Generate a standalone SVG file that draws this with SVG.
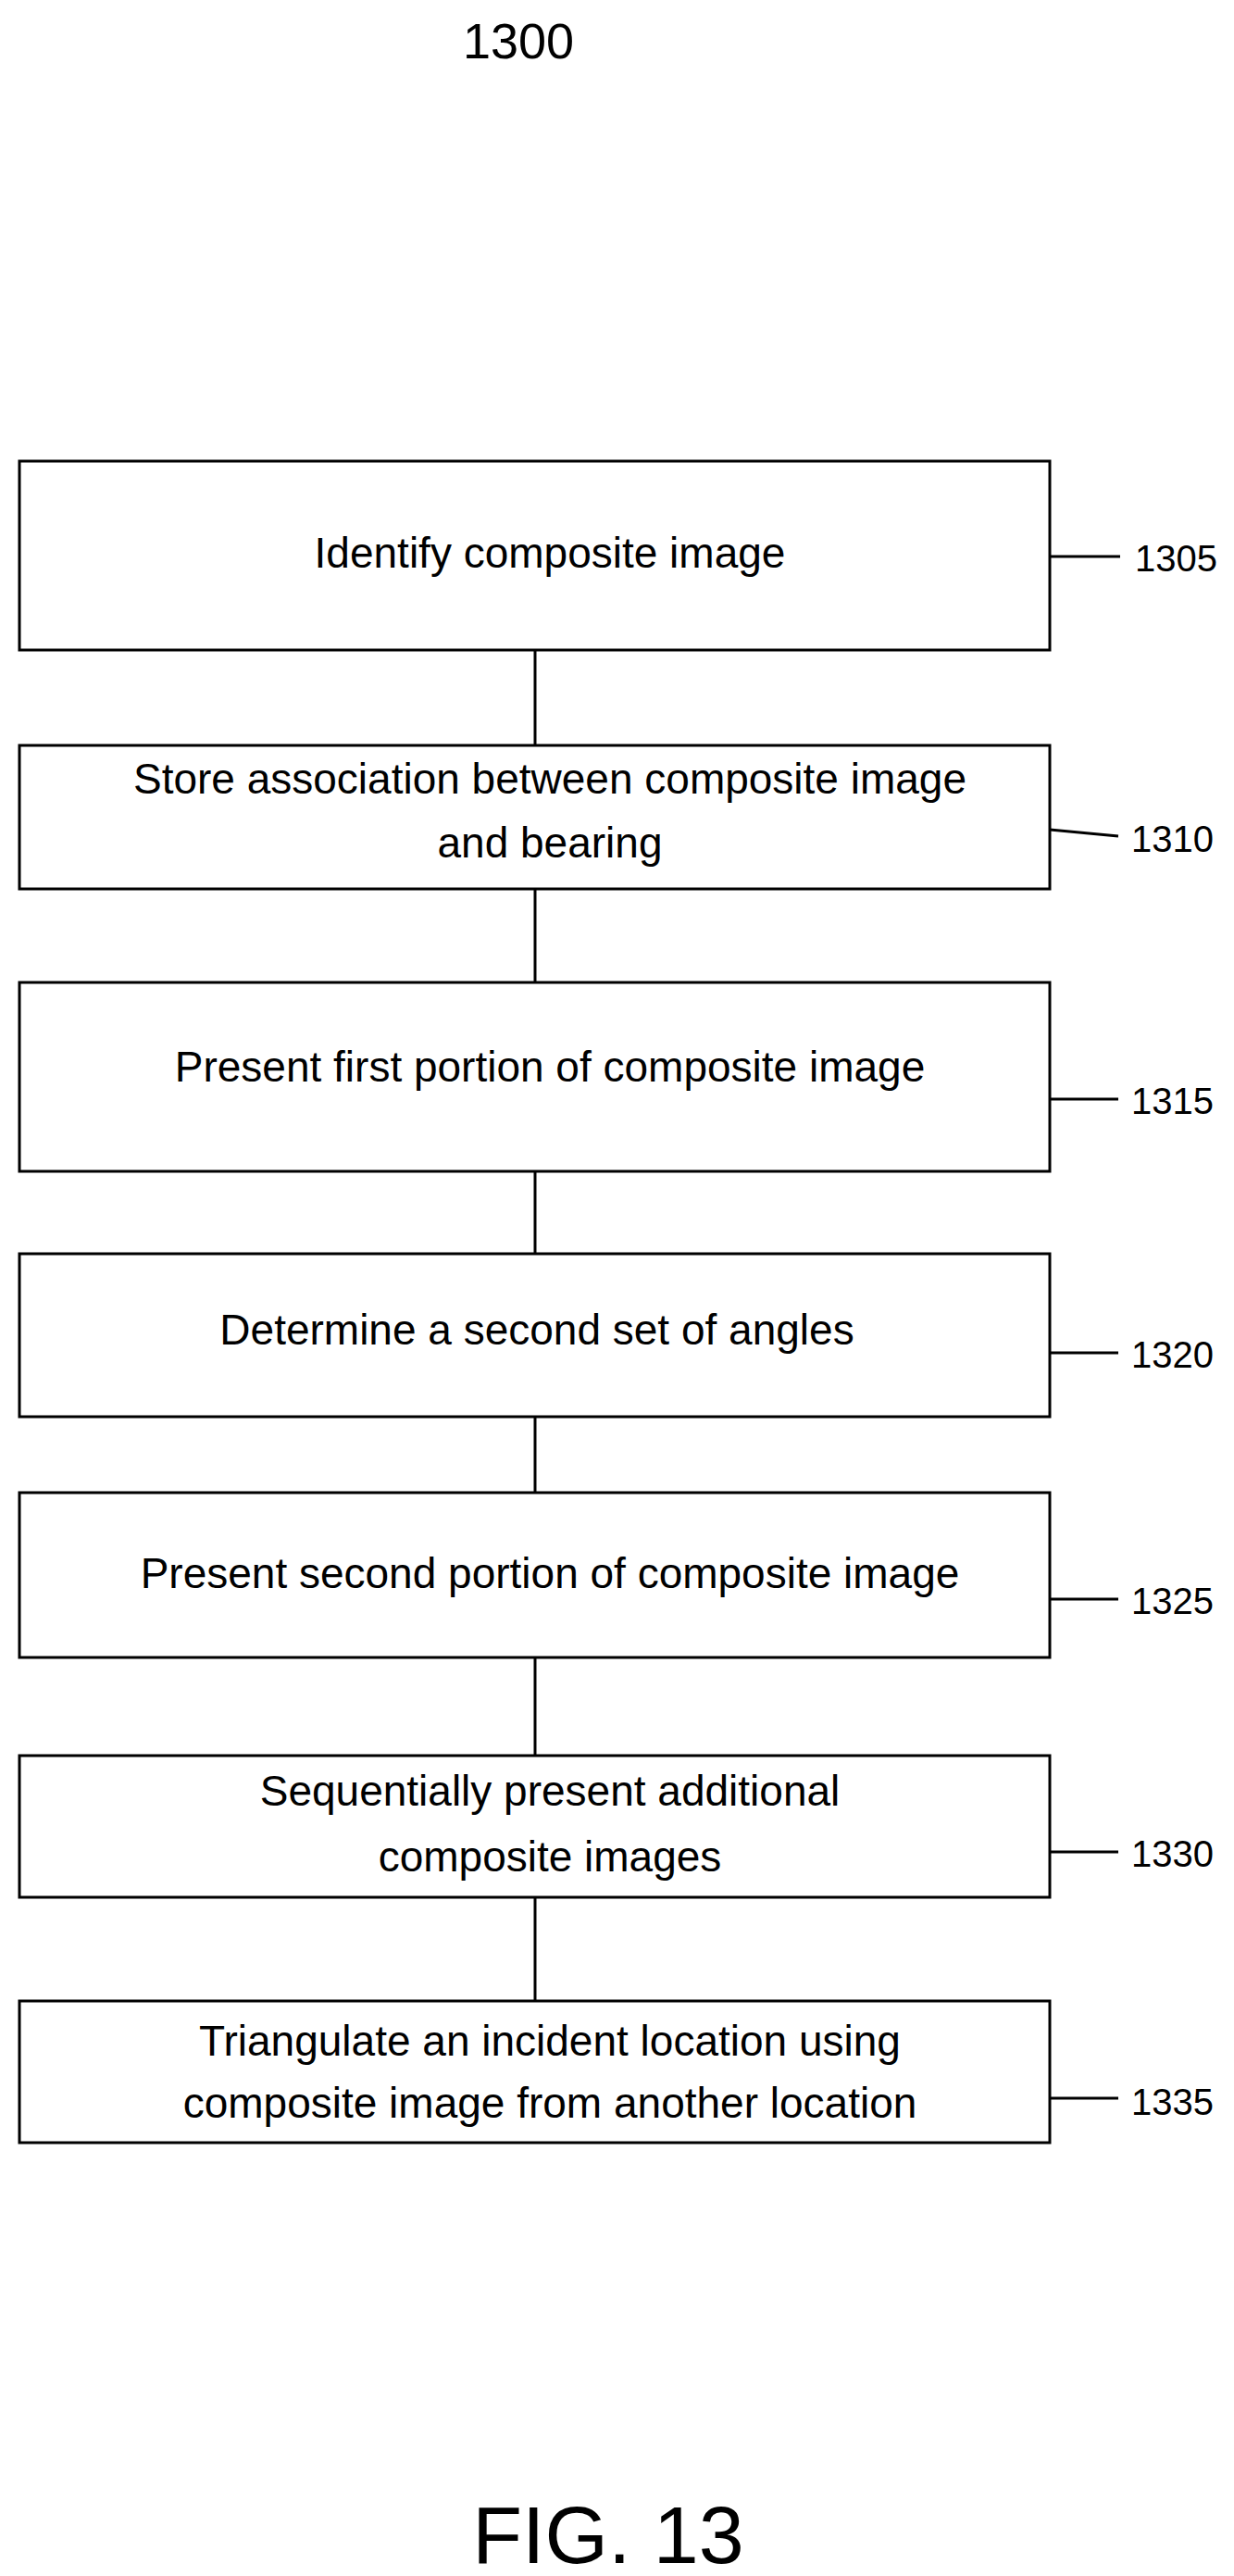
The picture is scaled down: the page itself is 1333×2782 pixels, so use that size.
<svg xmlns="http://www.w3.org/2000/svg" width="1333" height="2782" viewBox="0 0 1333 2782">
<style>
.b{fill:#fff;stroke:#000;stroke-width:3}
.t{font-family:"Liberation Sans",Arial,sans-serif;font-size:46px;text-anchor:middle;dominant-baseline:central}
.l{font-family:"Liberation Sans",Arial,sans-serif;font-size:40px;dominant-baseline:central}
.c{stroke:#000;stroke-width:3;fill:none}
</style>
<rect width="1333" height="2782" fill="#fff"/>
<text class="t" x="560" y="44" style="font-size:54px">1300</text>
<g id="connectors">
<line class="c" x1="578" y1="702" x2="578" y2="805"/>
<line class="c" x1="578" y1="960" x2="578" y2="1061"/>
<line class="c" x1="578" y1="1265" x2="578" y2="1354"/>
<line class="c" x1="578" y1="1530" x2="578" y2="1612"/>
<line class="c" x1="578" y1="1790" x2="578" y2="1896"/>
<line class="c" x1="578" y1="2049" x2="578" y2="2161"/>
<line class="c" x1="1134" y1="601" x2="1210" y2="601"/>
<line class="c" x1="1134" y1="896" x2="1208" y2="903"/>
<line class="c" x1="1134" y1="1187" x2="1208" y2="1187"/>
<line class="c" x1="1134" y1="1461" x2="1208" y2="1461"/>
<line class="c" x1="1134" y1="1727" x2="1208" y2="1727"/>
<line class="c" x1="1134" y1="2000" x2="1208" y2="2000"/>
<line class="c" x1="1134" y1="2266" x2="1208" y2="2266"/>
</g>
<g id="n1305"><rect class="b" x="21" y="498" width="1113" height="204"/><text class="t" x="594" y="597">Identify composite image</text><text class="l" x="1226" y="603">1305</text></g>
<g id="n1310"><rect class="b" x="21" y="805" width="1113" height="155"/><text class="t" x="594" y="841">Store association between composite image</text><text class="t" x="594" y="910">and bearing</text><text class="l" x="1222" y="906">1310</text></g>
<g id="n1315"><rect class="b" x="21" y="1061" width="1113" height="204"/><text class="t" x="594" y="1152">Present first portion of composite image</text><text class="l" x="1222" y="1189">1315</text></g>
<g id="n1320"><rect class="b" x="21" y="1354" width="1113" height="176"/><text class="t" x="580" y="1436">Determine a second set of angles</text><text class="l" x="1222" y="1463">1320</text></g>
<g id="n1325"><rect class="b" x="21" y="1612" width="1113" height="178"/><text class="t" x="594" y="1699">Present second portion of composite image</text><text class="l" x="1222" y="1729">1325</text></g>
<g id="n1330"><rect class="b" x="21" y="1896" width="1113" height="153"/><text class="t" x="594" y="1934">Sequentially present additional</text><text class="t" x="594" y="2005">composite images</text><text class="l" x="1222" y="2002">1330</text></g>
<g id="n1335"><rect class="b" x="21" y="2161" width="1113" height="153"/><text class="t" x="594" y="2204">Triangulate an incident location using</text><text class="t" x="594" y="2271">composite image from another location</text><text class="l" x="1222" y="2270">1335</text></g>
<text class="t" x="657" y="2737" style="font-size:88px">FIG. 13</text>
</svg>
